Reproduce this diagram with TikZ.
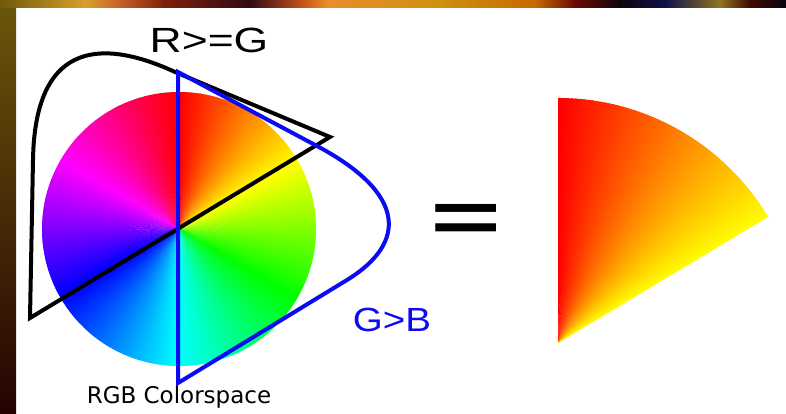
\documentclass[tikz,border=0pt]{standalone}
\usepackage{fontspec}
\setmainfont{Liberation Sans}
\newfontfamily\capfont{DejaVu Sans}
\definecolor{bg0}{RGB}{110,88,12}
\definecolor{bg1}{RGB}{215,160,45}
\definecolor{bg2}{RGB}{200,95,40}
\definecolor{bg3}{RGB}{125,30,10}
\definecolor{bg4}{RGB}{50,10,20}
\definecolor{bg5}{RGB}{190,80,25}
\definecolor{bg6}{RGB}{235,140,45}
\definecolor{bg7}{RGB}{205,145,15}
\definecolor{bg8}{RGB}{200,105,0}
\definecolor{bg9}{RGB}{105,10,0}
\definecolor{bg10}{RGB}{15,5,10}
\definecolor{bg11}{RGB}{15,15,75}
\definecolor{bg12}{RGB}{145,115,35}
\definecolor{bg13}{RGB}{60,10,0}
\definecolor{bg14}{RGB}{10,5,20}
\definecolor{lb1}{RGB}{105,85,10}
\definecolor{lb2}{RGB}{70,40,8}
\definecolor{lb3}{RGB}{35,3,3}
\definecolor{setblue}{RGB}{10,10,245}

\begin{document}
\begin{tikzpicture}[x=1pt,y=1pt]
	\useasboundingbox (0,0) rectangle (786,414);
	\fill[white] (16,0) rectangle (786,406);
	\shade[top color=lb1, middle color=lb2, bottom color=lb3] (0,0) rectangle (16,406);
	\foreach \xa/\xb/\ca/\cb in {0/85/bg0/bg1, 85/120/bg1/bg2, 120/165/bg2/bg3, 165/250/bg3/bg4,
		250/300/bg4/bg5, 300/327/bg5/bg6, 327/440/bg6/bg7, 440/535/bg7/bg8, 535/575/bg8/bg9,
		575/620/bg9/bg10, 620/665/bg10/bg11, 665/720/bg11/bg12, 720/750/bg12/bg13, 750/786/bg13/bg14}
		\shade[left color=\ca, right color=\cb] (\xa-0.4,406) rectangle (\xb+0.4,414);

	\coordinate (o) at (179,185);
	\foreach \h in {0,...,359} {
		\pgfmathsetmacro\hh{\h/360}
		\definecolor{wc}{hsb}{\hh,1,1}
		\fill[wc] (o) -- ++({90-\h}:137) arc[start angle={90-\h}, end angle={88.5-\h}, radius=137] -- cycle;
	}
	\draw[line width=4] (30,96) -- (330,277) -- (175,342)
		.. controls (110,372) and (35,380) .. (33,254) -- cycle;
	\draw[setblue, line width=4] (178,342) -- (178,31) -- (347,134)
		.. controls (407,171) and (407,220) .. (317,268) -- cycle;

	\coordinate (s) at (558,71);
	\begin{scope}
		\clip (s) -- ++(90:245) arc[start angle=90, end angle=31, radius=245] -- cycle;
		\foreach \a in {0,...,59} {
			\pgfmathsetmacro\hh{\a/59*60/360}
			\definecolor{wc}{hsb}{\hh,1,1}
			\fill[wc] (s) -- ++({90-\a}:250) arc[start angle={90-\a}, end angle={88.5-\a}, radius=250] -- cycle;
		}
	\end{scope}

	\node[anchor=base, font=\fontsize{35}{40}\selectfont] (rg) at (209,361) {\scalebox{1.27}[1]{R>=G}};
	\node[anchor=base, setblue, font=\fontsize{33.5}{38}\selectfont] (gb) at (392,82) {\scalebox{1.15}[1]{G>B}};
	\node[anchor=base, font=\capfont\fontsize{23}{28}\selectfont] (cap) at (179,10) {RGB Colorspace};
	\node[anchor=base, font=\capfont\fontsize{97}{100}\selectfont] (eq) at (466,165) {=};
\end{tikzpicture}
\end{document}
